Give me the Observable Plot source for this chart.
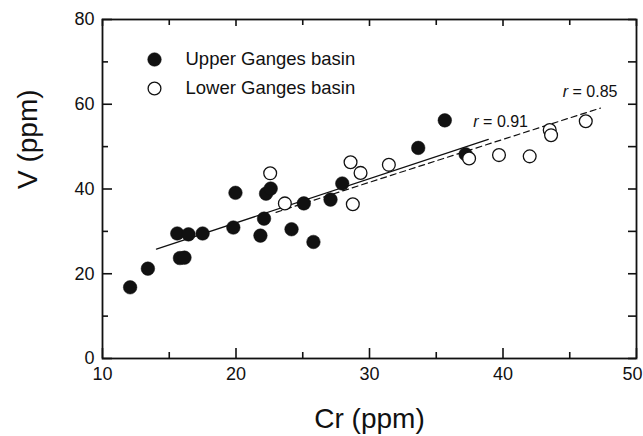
<!DOCTYPE html>
<html>
<head>
<meta charset="utf-8">
<script src="https://cdn.jsdelivr.net/npm/d3@7"></script>
<script src="https://cdn.jsdelivr.net/npm/@observablehq/plot@0.6"></script>
<style>
  html, body { margin: 0; padding: 0; background: #fff; }
  svg { display: block; }
</style>
</head>
<body>
<div id="chart"></div>
<script>
// Data
const upperCr = [12.07, 13.4, 15.6, 16.44, 17.5, 15.8, 16.14, 19.8, 19.96, 21.83, 22.1, 22.25, 22.6, 24.16, 25.08, 25.8, 27.08, 27.96, 33.65, 35.64, 37.2];
const upperV  = [16.8, 21.2, 29.5, 29.3, 29.5, 23.7, 23.8, 30.9, 39.1, 29.0, 33.0, 38.9, 40.1, 30.5, 36.6, 27.5, 37.5, 41.3, 49.7, 56.2, 48.2];
const lowerCr = [22.56, 23.66, 28.58, 29.33, 28.75, 31.45, 37.46, 39.7, 42.0, 43.5, 43.6, 46.2];
const lowerV  = [43.7, 36.6, 46.3, 43.8, 36.4, 45.7, 47.2, 48.0, 47.7, 53.9, 52.7, 56.0];

// Regression line end points (Upper: solid, Lower: dashed)
const upperFitCr = [14.04, 38.9];
const upperFitV  = [25.8, 51.7];
const lowerFitCr = [23.0, 47.3];
const lowerFitV  = [34.5, 59.1];
const upperR = "0.91";
const lowerR = "0.85";

const seriesNames = ["Upper Ganges basin", "Lower Ganges basin"];
const xMajor = [10, 20, 30, 40, 50];
const xMinor = [15, 25, 35, 45];
const yMajor = [0, 20, 40, 60, 80];
const yMinor = [10, 30, 50, 70];

const upper = upperCr.map((c, i) => ({cr: c, v: upperV[i]}));
const lower = lowerCr.map((c, i) => ({cr: c, v: lowerV[i]}));
const upperFit = upperFitCr.map((c, i) => ({cr: c, v: upperFitV[i]}));
const lowerFit = lowerFitCr.map((c, i) => ({cr: c, v: lowerFitV[i]}));

const W = 643, H = 436, mT = 19, mB = 78, mL = 102, mR = 7;
const innerH = H - mT - mB, innerW = W - mL - mR;
const ink = "#111";
const font = "'Liberation Sans', Arial, sans-serif";

const plot = Plot.plot({
  width: W, height: H,
  marginTop: mT, marginBottom: mB, marginLeft: mL, marginRight: mR,
  style: {fontFamily: font, color: ink, background: "#fff"},
  x: {domain: [10, 50]},
  y: {domain: [0, 80]},
  marks: [
    // tick labels
    Plot.axisX({ticks: xMajor.slice(0, -1), tickSize: 0, tickPadding: 9, fontSize: 18, label: null, tickFormat: d => String(d)}),
    Plot.axisX({ticks: xMajor.slice(-1), tickSize: 0, tickPadding: 9, fontSize: 18, label: null, textAnchor: "end", dx: 6, tickFormat: d => String(d)}),
    Plot.axisY({ticks: yMajor, tickSize: 0, tickPadding: 8, fontSize: 18, label: null, tickFormat: d => String(d)}),
    // inward ticks: bottom / top
    Plot.tickX(xMajor, {x: d => d, insetTop: innerH - 10, stroke: ink, strokeWidth: 1.6}),
    Plot.tickX(xMinor, {x: d => d, insetTop: innerH - 6, stroke: ink, strokeWidth: 1.6}),
    Plot.tickX(xMajor, {x: d => d, insetBottom: innerH - 7, stroke: ink, strokeWidth: 1.6}),
    Plot.tickX(xMinor, {x: d => d, insetBottom: innerH - 6, stroke: ink, strokeWidth: 1.6}),
    // inward ticks: left / right
    Plot.tickY(yMajor, {y: d => d, insetRight: innerW - 10, stroke: ink, strokeWidth: 1.6}),
    Plot.tickY(yMinor, {y: d => d, insetRight: innerW - 6, stroke: ink, strokeWidth: 1.6}),
    Plot.tickY(yMajor, {y: d => d, insetLeft: innerW - 8, stroke: ink, strokeWidth: 1.6}),
    Plot.tickY(yMinor, {y: d => d, insetLeft: innerW - 8, stroke: ink, strokeWidth: 1.6}),
    Plot.frame({stroke: ink, strokeWidth: 1.8}),
    // axis titles
    Plot.text(["Cr (ppm)"], {frameAnchor: "bottom", dy: 69, fontSize: 28, fill: ink, lineAnchor: "bottom", text: d => d}),
    Plot.text(["V (ppm)"], {frameAnchor: "left", dx: -66, rotate: -90, fontSize: 28, fill: ink, lineAnchor: "bottom", text: d => d}),
    // regression lines
    Plot.line(upperFit, {x: "cr", y: "v", stroke: ink, strokeWidth: 1.2}),
    Plot.line(lowerFit, {x: "cr", y: "v", stroke: ink, strokeWidth: 1.2, strokeDasharray: "6,4"}),
    // points
    Plot.dot(upper, {x: "cr", y: "v", r: 6.8, fill: ink, stroke: ink, strokeWidth: 0.5}),
    Plot.dot(lower, {x: "cr", y: "v", r: 6.4, fill: "#fff", stroke: ink, strokeWidth: 1.3}),
    // r labels
    Plot.text([upperFit[1]], {x: "cr", y: "v", text: () => "r = " + upperR, textAnchor: "start", dx: -15, dy: -18, fontSize: 16, fill: ink, className: "rlab"}),
    Plot.text([lowerFit[1]], {x: "cr", y: "v", text: () => "r = " + lowerR, textAnchor: "end", dx: 17, dy: -16, fontSize: 16, fill: ink, className: "rlab"}),
    // legend
    Plot.dot([seriesNames[0]], {frameAnchor: "top-left", dx: 52, dy: 40, r: 6.8, fill: ink, stroke: ink, strokeWidth: 0.5}),
    Plot.dot([seriesNames[1]], {frameAnchor: "top-left", dx: 52, dy: 69, r: 6.4, fill: "#fff", stroke: ink, strokeWidth: 1.3}),
    Plot.text([seriesNames[0]], {frameAnchor: "top-left", dx: 83, dy: 40, text: d => d, textAnchor: "start", lineAnchor: "middle", fontSize: 18.5, fill: ink}),
    Plot.text([seriesNames[1]], {frameAnchor: "top-left", dx: 83, dy: 69, text: d => d, textAnchor: "start", lineAnchor: "middle", fontSize: 18.5, fill: ink})
  ]
});

// italic "r" in the correlation labels
d3.select(plot).selectAll("g.rlab text").each(function() {
  const t = this.textContent;
  const rest = t.slice(1);
  this.textContent = "";
  d3.select(this).append("tspan").attr("font-style", "italic").text("r");
  d3.select(this).append("tspan").text(rest);
});

document.getElementById("chart").appendChild(plot);
</script>
</body>
</html>
